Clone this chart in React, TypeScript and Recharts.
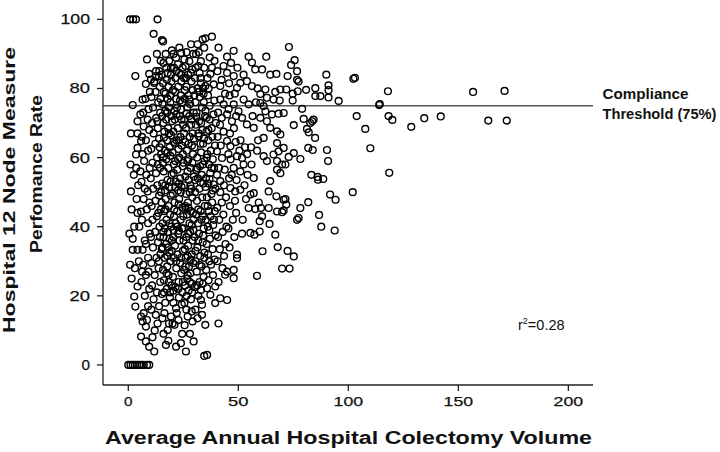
import React from 'react';
import { ScatterChart, Scatter, XAxis, YAxis, ReferenceLine } from 'recharts';

// ---- axis / annotation values ----
const xTicks = [0, 50, 100, 150, 200];
const yTicks = [0, 20, 40, 60, 80, 100];
const complianceThreshold = 75;
const rSquaredText = '0.28';

// ---- hospitals: [average annual colectomy volume, 12-node performance rate %] ----
const zeroRate: number[][] = [
  [0, 0], [1, 0], [2, 0], [3, 0], [4, 0], [5, 0], [6, 0], [7, 0], [8.5, 0], [9.5, 0],
];
const perfectRate: number[][] = [[0.8, 100], [2.2, 100], [3.5, 100], [13.3, 100]];

const volume0to10: number[][] = [
  [11.5, 95.8], [15.3, 94], [15.8, 93.6], [8.5, 88.4], [3.2, 83.6], [2, 75.2],
  [1.2, 67], [4.2, 67], [4.2, 70.5], [5.5, 72.5], [4.2, 62.8], [3.5, 60.9], [5.8, 64.8], [1.2, 50.2],
  [2, 33.3], [4.2, 33.3], [2.7, 40], [5, 40], [4.2, 44], [4.2, 22.7], [3.2, 16.9], [2.7, 19.8],
  [1, 58], [2.5, 55], [1.5, 45], [0.5, 38], [3, 28], [1.5, 25], [4.5, 52], [3.8, 48], [2, 36.5],
  [4.8, 30], [0.8, 29], [3.6, 57],
  [5.8, 14], [6.5, 12.6], [8, 11.1], [5.8, 8.2], [8, 6.8], [9.5, 5.3], [6.5, 33.3], [5.8, 44.4],
  [8.8, 50.2], [6.5, 76.8], [8, 81.3], [9.5, 84.2], [7, 15], [8.5, 13], [9, 17], [7.5, 20], [6, 24],
  [8, 26], [9.5, 22], [6.8, 29], [9, 31], [7.5, 36], [9.8, 38], [6.2, 42], [8.4, 45], [9.6, 47],
  [7, 48], [6, 53], [8.2, 55], [9.7, 57], [7.2, 59], [6.5, 61], [9, 62], [8, 65], [9.5, 68], [7, 69],
  [8.8, 71], [6.8, 73], [9.2, 74], [7.8, 77], [9.8, 79], [6.2, 66], [5.5, 56], [7.5, 51], [9, 41],
  [8, 35], [6.3, 27], [9.2, 27],
];

const volume10to20: number[][] = [
  [11.8, 3.9], [11, 8], [12, 10], [13.3, 12], [12.5, 14.5], [10.5, 16], [14, 17], [11.5, 19], [13, 21],
  [10.8, 23], [14.5, 24], [12, 26], [13.8, 28], [10.5, 29.5], [12.8, 31], [14.6, 32], [11.2, 34],
  [13.5, 35.5], [10.3, 37], [12.2, 38.5], [14.2, 40], [11, 42], [13, 43], [14.8, 45], [10.6, 46],
  [12.4, 47.5], [14, 49], [11.3, 51], [13.2, 52], [10.2, 54], [12.6, 55.5], [14.4, 57], [11, 58.5],
  [13.1, 60], [14.9, 61], [10.4, 62.5], [12.3, 64], [14, 65.5], [11.5, 67], [13.4, 68.5], [10.8, 70],
  [12.7, 71.5], [14.5, 73], [11.2, 74.5], [13.6, 76], [10.5, 77.5], [12.4, 79], [14.3, 80.5],
  [11.8, 82], [13.9, 83.5], [12.6, 85], [14.1, 85], [10.3, 82.6], [12.6, 83.6], [11.8, 81.6],
  [14.7, 88], [13, 90],
  [17.1, 5.8], [16.4, 15], [17.9, 10.1], [19.4, 14], [18.5, 12], [15.5, 13.5], [16.8, 18], [18.9, 19.5],
  [15.3, 20.5], [17.5, 22], [19.6, 23], [16.2, 24.5], [18.3, 26], [15.8, 27.5], [17.7, 28.5], [19.2, 30],
  [16.5, 31], [18.7, 32.5], [15.2, 33.5], [17.2, 35], [19.8, 36], [16, 37], [18, 38.5], [19.5, 40],
  [15.6, 41], [17.4, 42], [19, 43.5], [16.3, 44.5], [18.4, 46], [15.1, 47], [17, 48], [19.3, 49],
  [16.7, 50.5], [18.6, 51.5], [15.4, 52.5], [17.8, 53.5], [19.7, 55], [16.1, 56], [18.2, 57],
  [15.7, 58.5], [17.3, 59.5], [19.1, 60.5], [16.6, 62], [18.8, 63], [15.2, 64], [17.6, 65],
  [19.4, 66.5], [16.4, 67.5], [18.1, 68.5], [15.9, 70], [17.2, 71], [19.6, 72], [16.8, 73.5],
  [18.5, 74.5], [15.5, 75.5], [17.9, 77], [19.2, 78], [16.2, 79], [18.3, 80.5], [15.8, 81.5],
  [17.5, 82.5], [19.4, 84], [16, 87.4], [19.4, 85.9], [17.9, 84.5], [18.6, 88], [17, 90], [19.8, 91],
  [16.9, 45], [18, 34], [17.4, 26.5], [19, 21], [16, 9], [18.2, 7],
];

const volume20to30: number[][] = [
  [21.7, 5.3], [23.9, 6.3], [21, 11.6], [21.7, 16.4], [22.8, 13], [24.5, 9], [20.5, 18], [23, 19.5],
  [24.6, 21], [21.4, 22.5], [22.9, 24], [20.3, 25.5], [24.1, 26.5], [21.8, 28], [23.5, 29.5], [20.7, 31],
  [22.4, 32], [24.8, 33], [21.2, 34.5], [23.3, 36], [20.4, 37], [22.7, 38], [24.4, 39.5], [21.5, 41],
  [23.8, 42], [20.8, 43], [22.2, 44.5], [24.6, 45.5], [21, 47], [23.1, 48], [20.2, 49.5], [22.6, 50.5],
  [24.2, 51.5], [21.6, 53], [23.6, 54], [20.6, 55.5], [22.3, 56.5], [24.7, 57.5], [21.3, 59], [23.2, 60],
  [20.1, 61.5], [22.8, 62.5], [24.3, 63.5], [21.9, 65], [23.7, 66], [20.5, 67.5], [22.5, 68.5],
  [24.9, 69.5], [21.1, 71], [23.4, 72], [20.9, 73.5], [22.1, 74.5], [24.5, 76], [21.7, 77], [23.9, 78],
  [20.3, 79.5], [22.7, 80.5], [24.1, 82], [21.4, 83], [23.1, 84.5], [20.8, 86], [22.6, 87], [24.7, 86],
  [21.7, 88.9], [25.5, 88.4], [23.2, 91.8], [24, 90.3], [20.6, 90], [22.2, 40], [23, 52.5], [21.2, 64],
  [24, 74],
  [26.2, 3.9], [29.7, 6.8], [27, 14], [29.2, 12.6], [25.5, 17.9], [26.5, 20], [28.5, 19], [27.4, 21.5],
  [25.8, 23], [29, 23.5], [26.8, 25], [28.2, 26.5], [25.4, 27.5], [27.6, 28.5], [29.5, 29.5], [26.1, 31],
  [28.8, 32], [25.7, 33.5], [27.2, 34.5], [29.3, 36], [26.4, 37], [28.1, 38.5], [25.2, 39.5], [27.8, 41],
  [29.6, 42], [26.7, 43.5], [28.4, 44.5], [25.9, 46], [27.1, 47], [29.1, 48.5], [26.3, 49.5], [28.6, 51],
  [25.5, 52], [27.5, 53.5], [29.8, 54.5], [26.9, 56], [28.3, 57], [25.1, 58.5], [27.3, 59.5], [29.4, 61],
  [26.6, 62], [28.9, 63.5], [25.8, 64.5], [27.9, 66], [29.2, 67], [26.2, 68.5], [28.5, 69.5], [25.4, 71],
  [27.7, 72], [29.7, 73], [26.8, 74.5], [28.1, 75.5], [25.6, 77], [27.4, 78], [29.3, 79.5], [26.4, 80.5],
  [28.7, 82], [25.3, 83], [27.2, 84], [29, 85.5], [26, 86.5], [27.7, 87.9], [28.5, 92.8], [29.5, 90],
  [26.5, 90.5], [28, 24], [27, 31.5], [28.8, 40.5], [26, 45], [27.9, 50],
];

const volume30to40: number[][] = [
  [34.5, 2.6], [31.5, 13.5], [33.5, 14.5], [33, 18.8], [33, 21.7], [33.5, 17.4], [30.5, 16], [31.8, 20],
  [30.3, 22.5], [32.4, 24], [34.2, 25.5], [31.1, 27], [33.3, 28.5], [30.6, 30], [32.7, 31.5], [34.6, 32.5],
  [31.4, 34], [33.8, 35.5], [30.2, 37], [32.1, 38], [34.3, 39.5], [31.7, 41], [33.2, 42], [30.8, 43.5],
  [32.9, 44.5], [34.8, 46], [31.2, 47.5], [33.6, 48.5], [30.4, 50], [32.3, 51], [34.1, 52.5], [31.6, 54],
  [33.4, 55], [30.9, 56.5], [32.6, 57.5], [34.7, 59], [31.3, 60], [33.1, 61.5], [30.1, 63], [32.8, 64],
  [34.4, 65.5], [31.9, 67], [33.7, 68], [30.7, 69.5], [32.2, 70.5], [34.9, 72], [31, 73], [33.5, 74.5],
  [30.5, 76], [32.5, 77.5], [34.2, 78.5], [31.5, 80], [33, 81.5], [30.3, 83], [32.4, 84.5], [34.5, 86],
  [31.8, 86.5], [33, 87.9], [30.8, 89.9], [31.5, 92.8], [33.8, 94.2], [34.5, 91.8], [32, 90.5], [34, 80],
  [35.8, 2.9], [35, 11.6], [37.3, 20.3], [35.8, 22.2], [39.5, 22.7], [39.5, 17.9], [36.5, 24.5], [38.5, 26],
  [35.4, 27.5], [37.6, 29], [39.2, 30.5], [36.2, 32], [38.3, 33.5], [35.6, 35], [37.1, 36.5], [39.7, 37.5],
  [36.8, 39], [38.6, 40.5], [35.2, 42], [37.4, 43], [39.3, 44.5], [36.1, 46], [38.1, 47], [35.7, 48.5],
  [37.8, 49.5], [39.6, 51], [36.4, 52.5], [38.8, 52.2], [35.3, 54], [37.2, 55.5], [39, 57], [36.6, 58],
  [38.4, 59.5], [35.9, 61], [37.5, 62], [39.4, 63.5], [36.3, 65], [38.2, 66], [35.5, 67.5], [37.9, 68.5],
  [39.8, 70], [36.9, 71], [38.7, 72.5], [35.1, 73.5], [37, 75], [39.1, 76.5], [36.2, 78], [38.8, 81.2],
  [35, 80.7], [37.3, 84.2], [36, 83], [38, 86], [35, 94.5], [38, 95], [37, 89], [39.2, 88],
];

const coreCluster: number[][] = [
  [13.7, 44], [15.9, 38.5], [18.8, 41], [20.9, 45], [22.9, 46.5], [25, 43], [27.3, 45.5], [29.4, 44],
  [31.8, 45], [33.9, 43], [36.7, 44.5], [38.9, 42],
  [14.9, 50], [16.8, 52], [19.2, 53], [21.4, 51.5], [23.8, 50], [25.9, 54.5], [28.2, 52], [30.3, 53.5],
  [32.9, 52.8], [35.1, 51.5], [36.9, 53.8], [38.4, 50.5],
  [13.4, 58], [15.7, 60], [17.9, 61.5], [20.7, 58], [22.6, 59.5], [24.8, 61], [26.9, 59], [29.1, 58.5],
  [31.4, 57], [33.9, 58], [35.7, 60], [37.8, 57],
  [14.2, 63], [16.2, 65.8], [18.5, 67], [20.7, 64.5], [23, 65], [25.3, 67], [27.4, 64], [29.8, 65.5],
  [32, 66.2], [34, 64], [36.4, 68],
  [13.2, 70.5], [15.4, 72], [17.7, 73], [19.9, 70.5], [21.9, 72.5], [24.2, 71], [26.5, 72.8], [28.7, 71],
  [30.9, 71.8], [33.1, 70], [35.6, 71.5],
  [14.6, 77], [16.9, 78.5], [19.1, 76], [21.3, 79], [23.5, 76.5], [25.7, 79.5], [27.8, 76.8], [30, 78],
  [32.2, 79], [34.3, 76], [36.5, 80],
  [15.1, 84], [17.3, 86], [19.6, 82], [21.8, 85], [24, 84], [26.2, 83], [28.4, 84.5], [30.6, 86], [32.8, 83],
  [13.9, 30], [15.6, 34], [17.8, 31.5], [19.7, 33], [21.8, 30], [24, 31], [26.1, 28.5], [28.4, 30.5],
  [30.5, 33], [32.4, 29], [34.6, 31], [36.8, 30],
  [14.4, 37], [16.6, 39.5], [18.7, 36.5], [20.6, 39], [23, 38.8], [25.1, 36], [27.3, 38], [29.6, 39],
  [31.8, 36], [34, 37.5], [36.2, 40],
  [16.3, 21], [18.4, 24], [20.5, 21.5], [22.7, 22], [24.8, 24], [27, 26], [29, 21], [31.3, 23], [33.8, 23.5],
  [22, 15], [24.3, 17.5], [26.4, 16], [28.8, 15.5], [20.1, 12], [25.6, 11.5], [28, 9],
];

const volume40to60: number[][] = [
  [41, 12], [41.8, 19.3], [44.9, 18.8], [44, 26.1], [44.9, 27], [41, 24], [42.8, 28], [40.5, 30],
  [43.5, 31.5], [41.6, 33.5], [44.2, 35], [40.8, 37], [42.9, 38.5], [44.6, 40], [41.3, 42], [43.2, 43.5],
  [40.4, 45.5], [42.5, 47], [44.4, 48.5], [41.8, 50], [40.3, 55], [41.8, 53.2], [43.5, 52], [40.3, 61.8],
  [42.6, 59.9], [44.9, 64.8], [41.2, 57], [43.8, 56.5], [42, 63.5], [40.6, 66], [43.3, 67.5], [41.7, 69.5],
  [44.9, 72.5], [41.8, 76.8], [43.3, 75.4], [40.8, 73], [42.5, 71.5], [41.8, 80.7], [43.3, 86.5],
  [44.9, 84.5], [44.9, 89.2], [41, 91.8], [40.5, 85], [42.4, 82.5], [44, 78.5],
  [47.9, 25.1], [47.9, 27.5], [49.4, 30.9], [49.4, 31.9], [46.4, 51.2], [48.6, 50.2], [47.1, 70.5],
  [46.4, 63.3], [47.9, 57], [49.4, 60.4], [47.9, 75.4], [47.9, 83.6], [46.7, 87.4], [47.9, 90.9],
  [49.4, 80.2], [46, 34], [48.2, 37], [45.5, 39.5], [47.5, 42], [49, 44], [46.2, 46], [48.5, 47.5],
  [45.8, 54], [47, 55], [49.2, 53.5], [46.5, 59.5], [45.5, 61], [48.8, 64.5], [46.2, 67], [48, 68.5],
  [45.6, 74], [49, 72], [46, 78], [48.4, 78.5], [45.8, 81.5], [49.6, 86],
  [51.7, 38], [50.9, 56], [51.7, 59.9], [52.4, 58], [50.9, 50.7], [50.1, 73.4], [51.7, 71.5], [53.9, 69.6],
  [52.4, 76.8], [54.7, 75.4], [52.4, 84], [53.9, 82.1], [54.7, 89.2], [50.9, 81.6], [54.7, 45.4], [52, 42],
  [53.5, 48], [51, 65], [53, 63], [54.2, 55], [52.8, 52], [50.5, 62], [54, 61],
  [55.5, 38.2], [57.3, 37.7], [59.7, 38.6], [59.7, 41.6], [57.7, 45.1], [55.5, 49.3], [57, 49.7],
  [58.5, 25.8], [57, 54.1], [57, 68.6], [56.2, 80.7], [56.2, 87.5], [57.7, 85.5], [59.3, 47], [56, 58],
  [58.5, 62], [56.5, 72], [58, 76], [59, 65], [55.8, 63], [58.8, 80],
];

const volume60to100: number[][] = [
  [60.8, 43], [60.3, 45.4], [63.8, 45.4], [63.8, 50.2], [61, 32.9], [64.2, 40.8], [64.5, 53.2],
  [61.5, 60.4], [63, 59], [61.5, 65.7], [63, 70.5], [64.5, 68.6], [60, 71.5], [62.3, 73.4], [60, 75.8],
  [61.5, 74.9], [63, 77.3], [60, 78.4], [62.3, 79.7], [60.8, 85.5], [62.7, 89.2], [64.5, 84],
  [66.8, 37.7], [67.9, 34.1], [67.6, 44.4], [69.9, 44.2], [67.3, 48.8], [66, 60.9], [67.6, 59], [69.9, 58],
  [67.6, 56.5], [69.1, 55.5], [67.6, 64.2], [68.3, 61.8], [67.6, 67.6], [69.1, 66.7], [65.3, 72.5],
  [68.3, 72.7], [66, 76.8], [68.8, 76.5], [66.8, 79], [69.1, 79.7], [67.3, 84.2], [69.9, 27.9],
  [70.6, 62.8], [70.6, 72.9], [71.8, 46.4], [71.4, 48], [72.4, 33], [75.2, 31.4], [73.3, 27.9],
  [70.6, 47.8], [70.6, 44.7], [76.7, 42], [77.4, 42.5], [78.2, 45.4], [81.8, 47.1], [78.2, 59.6],
  [75.2, 61.3], [72.9, 60.2], [71.4, 58], [75.2, 69.4], [79, 74.1], [79.7, 71.2], [74.7, 76.5],
  [71.8, 79.7], [74.7, 78.5], [77, 79.2], [72.4, 83.6], [76.7, 82.5], [77.4, 82], [76.7, 85], [74, 86.8],
  [75.6, 88.2], [73, 92],
  [80.8, 79.6], [85, 80.1], [85, 77.8], [87.3, 77.8], [81.2, 68.3], [82, 67.3], [83.6, 70.5], [82.7, 70],
  [84.2, 71], [84.9, 65.7], [81.8, 62.8], [83.8, 62.2], [86, 54.4], [88.6, 53.8], [83.2, 55], [86.2, 53.6],
  [87.7, 40], [86.7, 43.4], [93.8, 38.9], [91.7, 49.3], [94.2, 47.8], [90.3, 62.2], [90.8, 59], [90, 84],
  [91, 80.9], [91, 79.5], [91, 77.4], [95.6, 76.4],
];

const volume100plus: number[][] = [
  [102.3, 82.8], [103, 83.1], [102, 50], [103.8, 72], [107.7, 68.3], [110, 62.7], [114, 75.2],
  [114.3, 75.5], [118, 79.2], [118.3, 72], [120, 70.9], [118.6, 55.6], [128.6, 68.9], [134.5, 71.4],
  [142, 71.9], [156.7, 79], [163.6, 70.7], [171, 79.3], [172, 70.7],
];

const allHospitals = [
  ...zeroRate, ...perfectRate, ...volume0to10, ...volume10to20, ...volume20to30,
  ...volume30to40, ...coreCluster, ...volume40to60, ...volume60to100, ...volume100plus,
].map(([x, y]) => ({ x, y }));

const FONT = '"Liberation Sans", Arial, Helvetica, sans-serif';

const tickLength = (s: string) => (s.length === 1 ? 8.5 : s.length === 2 ? 20.5 : 29.5);

const XTick = (props: any) => {
  const { x, y, payload } = props;
  const s = String(payload.value);
  return (
    <text x={x} y={y + 13} textAnchor="middle" fontSize={13.5} fontFamily={FONT} fill="#111"
      stroke="#111" strokeWidth={0.25}
      textLength={tickLength(s)} lengthAdjust="spacingAndGlyphs">{s}</text>
  );
};

const YTick = (props: any) => {
  const { x, y, payload } = props;
  const s = String(payload.value);
  return (
    <text x={x - 5} y={y + 5} textAnchor="end" fontSize={14} fontFamily={FONT} fill="#111"
      stroke="#111" strokeWidth={0.25}
      textLength={tickLength(s)} lengthAdjust="spacingAndGlyphs">{s}</text>
  );
};

const XTitle = () => (
  <g>
    <text x={348.5} y={444} textAnchor="middle" fontSize={18} fontWeight="bold" fontFamily={FONT}
      fill="#111" textLength={487} lengthAdjust="spacingAndGlyphs">Average Annual Hospital Colectomy Volume</text>
    <text x={518} y={330} fontSize={14.5} fontFamily={FONT} fill="#111">
      r<tspan dy={-6} fontSize={9}>2</tspan><tspan dy={6}>={rSquaredText}</tspan>
    </text>
  </g>
);

const YTitle = () => (
  <g>
    <text transform="translate(15,190) rotate(-90)" textAnchor="middle" fontSize={17} fontWeight="bold"
      fontFamily={FONT} fill="#111" textLength={286} lengthAdjust="spacingAndGlyphs">Hospital 12 Node Measure</text>
    <text transform="translate(42,174) rotate(-90)" textAnchor="middle" fontSize={17} fontWeight="bold"
      fontFamily={FONT} fill="#111" textLength={158} lengthAdjust="spacingAndGlyphs">Perfomance Rate</text>
  </g>
);

const ThresholdLabel = (props: any) => {
  const vb = props.viewBox || {};
  const lx = (vb.x || 0) + (vb.width || 0) + 9.5;
  const ly = vb.y || 0;
  return (
    <g>
      <text x={lx} y={ly - 7} fontSize={14} fontWeight="bold" fontFamily={FONT} fill="#111"
        textLength={86} lengthAdjust="spacingAndGlyphs">Compliance</text>
      <text x={lx} y={ly + 13} fontSize={14} fontWeight="bold" fontFamily={FONT} fill="#111"
        textLength={114} lengthAdjust="spacingAndGlyphs">Threshold (75%)</text>
    </g>
  );
};

const OpenCircle = (props: any) => {
  const { cx, cy } = props;
  if (cx == null || cy == null) return null;
  return <circle cx={cx} cy={cy} r={3.4} fill="none" stroke="#000" strokeWidth={1.4} />;
};

export default function App() {
  return (
    <div style={{ position: 'absolute', left: 0, top: 0, width: 720, height: 452, background: '#fff' }}>
      <ScatterChart width={720} height={452} margin={{ top: 0, right: 127, bottom: 0, left: 0 }}>
        <XAxis type="number" dataKey="x" domain={[-11.5, 211.2]} ticks={xTicks} height={67}
          allowDataOverflow tick={<XTick />} tickSize={6} axisLine={{ stroke: '#222', strokeWidth: 1.3 }}
          tickLine={{ stroke: '#222', strokeWidth: 1.3 }} label={<XTitle />} />
        <YAxis type="number" dataKey="y" domain={[-5.8, 105.6]} ticks={yTicks} width={103}
          allowDataOverflow tick={<YTick />} tickSize={6} axisLine={{ stroke: '#222', strokeWidth: 1.3 }}
          tickLine={{ stroke: '#222', strokeWidth: 1.3 }} label={<YTitle />} />
        <ReferenceLine y={complianceThreshold} stroke="#555" strokeWidth={1.4} label={<ThresholdLabel />}
          ifOverflow="visible" />
        <Scatter data={allHospitals} shape={<OpenCircle />} isAnimationActive={false} />
      </ScatterChart>
    </div>
  );
}
